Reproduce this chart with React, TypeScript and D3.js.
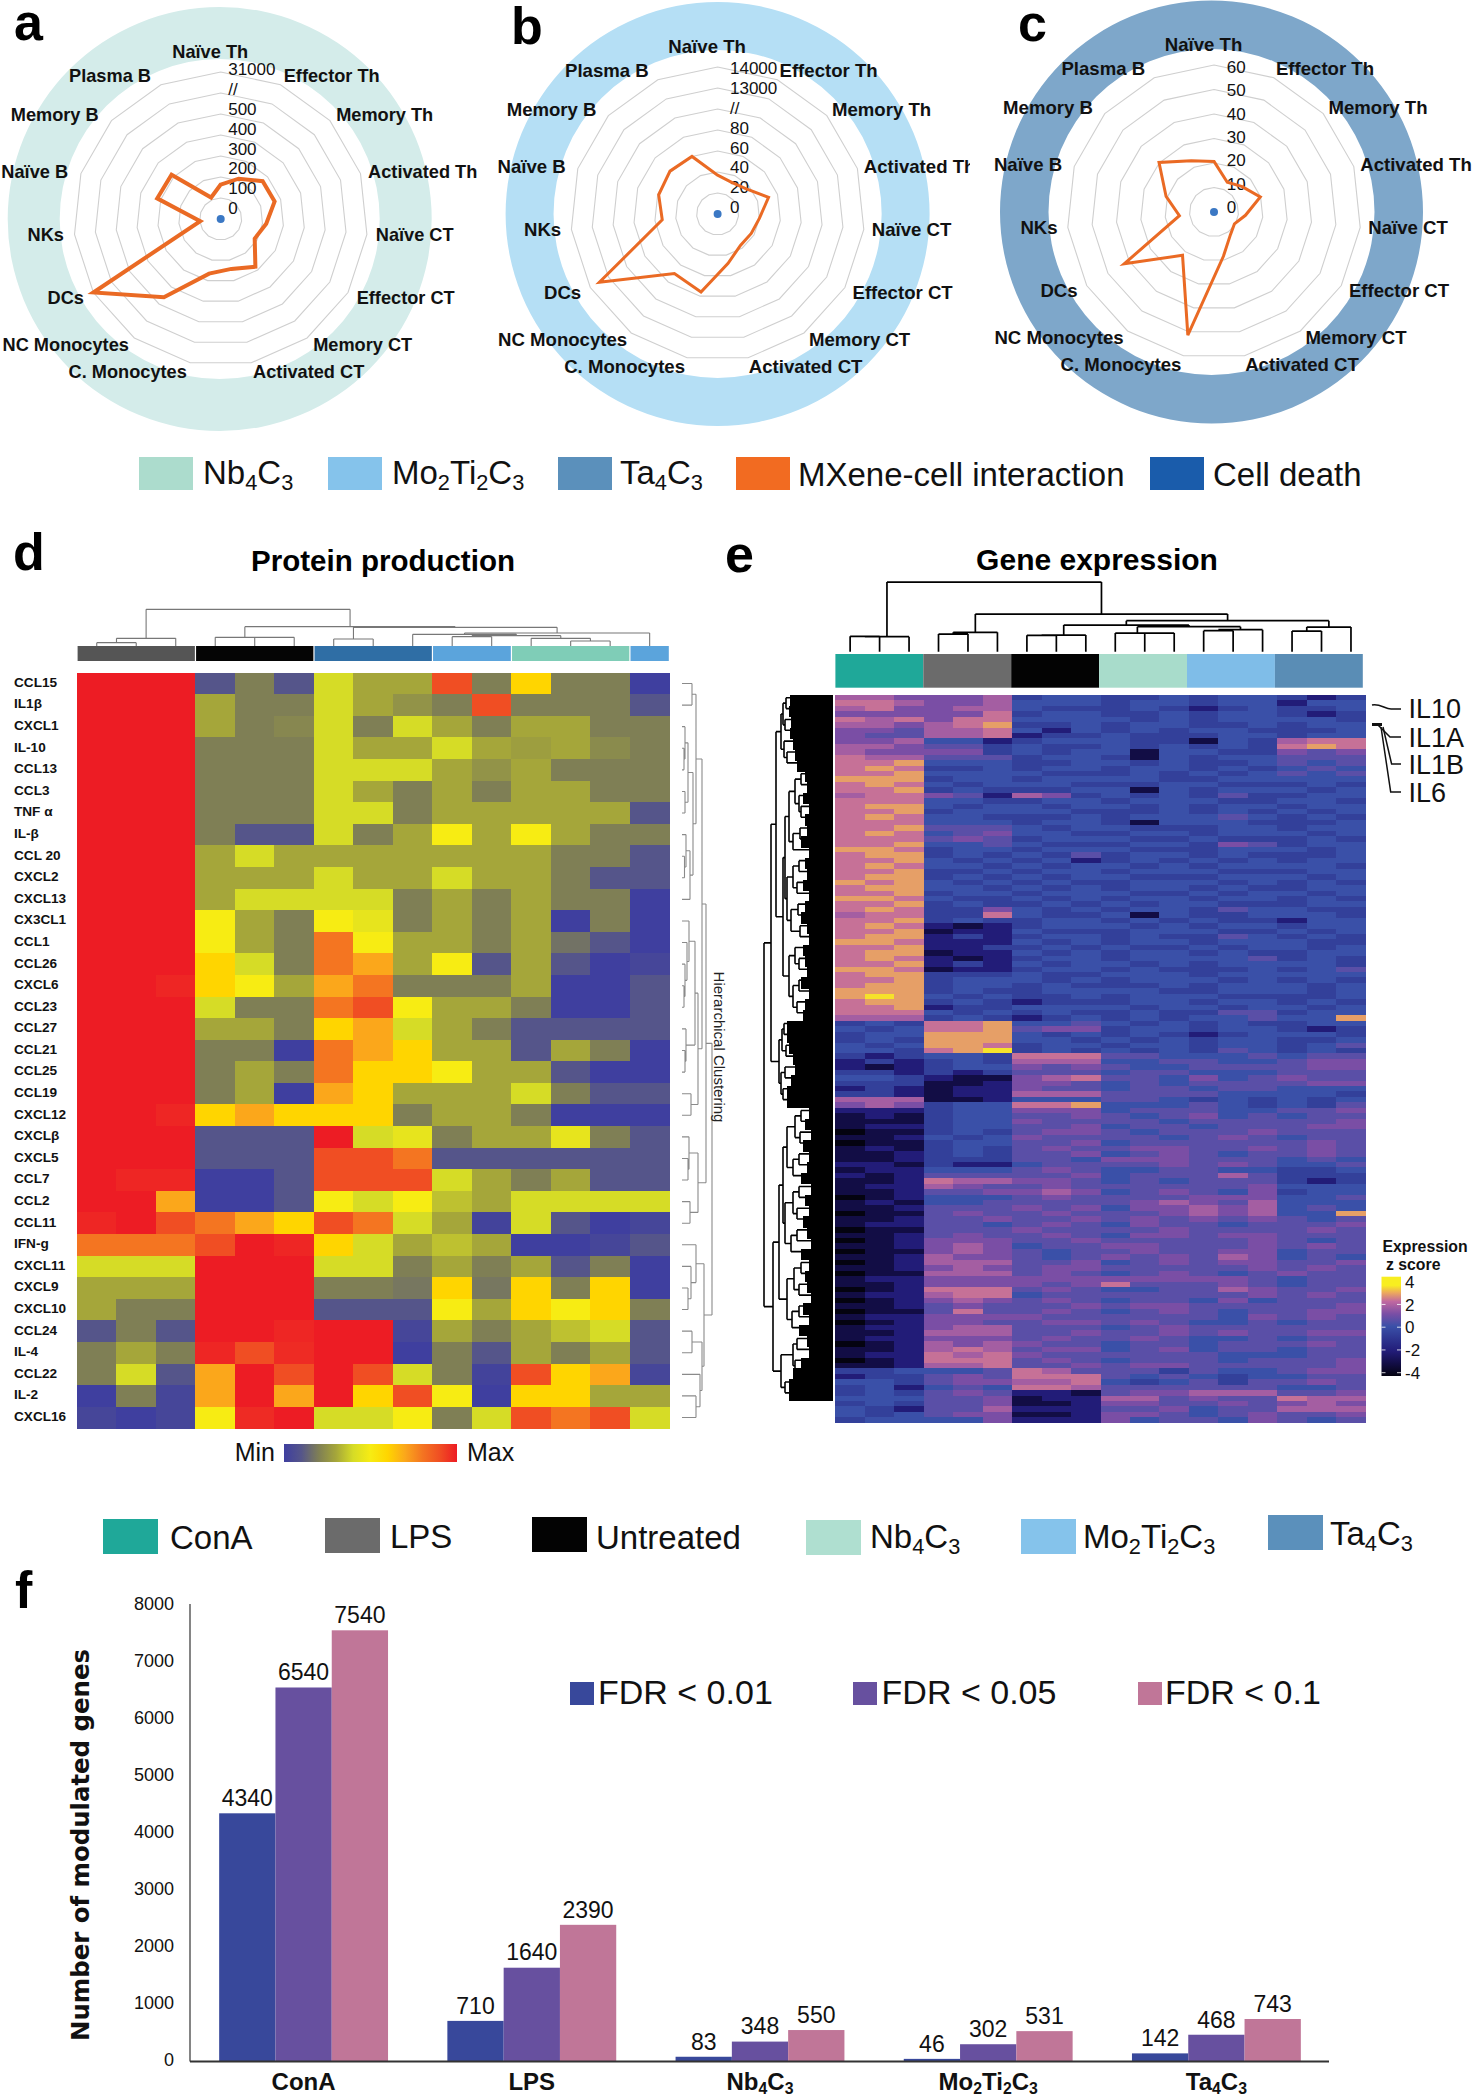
import React from "react";
import * as d3 from "d3";

const FONT = "'Liberation Sans', Arial, sans-serif";

/* ---------- radar panels ---------- */
const cellTypes = ["Naïve Th", "Effector Th", "Memory Th", "Activated Th", "Naïve CT", "Effector CT", "Memory CT", "Activated CT", "C. Monocytes", "NC Monocytes", "DCs", "NKs", "Naïve B", "Memory B", "Plasma B"];
const interactionNb = [164, 210, 269, 270, 218, 187, 281, 243, 266, 460, 31000, 98, 318, 315, 112];
const interactionMo = [37, 33, 36, 51, 40, 37, 37, 48, 76, 70, 13500, 53, 59, 61, 60];
const interactionTa = [20.8, 13.4, 15.6, 20, 13, 9.7, 11.5, 18.6, 51.7, 22, 42.6, 14.3, 20.7, 30.4, 23];
const cellDeathNb = [0, 0, 0, 0, 0, 0, 0, 0, 0, 0, 0, 0, 0, 0, 0];
const ticksNb = ["0", "100", "200", "300", "400", "500", "//", "31000"];
const ticksMo = ["0", "20", "40", "60", "80", "//", "13000", "14000"];
const ticksTa = ["0", "10", "20", "30", "40", "50", "60"];
const scaleNb = d3.scaleLinear().domain([0, 500, 30000, 31000]).range([0, 105, 126, 147]);
const scaleMo = d3.scaleLinear().domain([0, 80, 6500, 13000, 14000]).range([0, 84, 105, 126, 147]);
const scaleTa = d3.scaleLinear().domain([0, 60]).range([0, 146]);

// label offsets from each radar's centre
const labelDx = [-10.5, 111, 164, 202, 194, 185, 142, 88, -93, -155, -155, -175, -186, -166, -110.7];
const labelDy = [-168, -144, -105, -48, 15, 78, 125, 152, 152, 125, 78, 15, -48, -105, -144];

const radars = [
  { key: "a", cx: 220.7, cy: 219, ringDx: -1, ringIn: 160, ringOut: 212, ring: "#d4ecea", values: interactionNb, scale: scaleNb, ticks: ticksNb, tickX: 7.5, tick0: -11, tickTop: -150, sw: 4, clip: 1473, labelSize: 18.2 },
  { key: "b", cx: 717.6, cy: 214, ringDx: 0, ringIn: 164, ringOut: 212, ring: "#b5dff5", values: interactionMo, scale: scaleMo, ticks: ticksMo, tickX: 12.4, tick0: -7, tickTop: -146, sw: 3, clip: 970, labelSize: 18.6 },
  { key: "c", cx: 1214, cy: 212, ringDx: -2.5, ringIn: 163, ringOut: 211.5, ring: "#7ea7ca", values: interactionTa, scale: scaleTa, ticks: ticksTa, tickX: 12.7, tick0: -5, tickTop: -145, sw: 3, clip: 1473, labelSize: 18.6 },
];

/* ---------- protein heat map (d) ---------- */
const proteins = ["CCL15", "IL1β", "CXCL1", "IL-10", "CCL13", "CCL3", "TNF α", "IL-β", "CCL 20", "CXCL2", "CXCL13", "CX3CL1", "CCL1", "CCL26", "CXCL6", "CCL23", "CCL27", "CCL21", "CCL25", "CCL19", "CXCL12", "CXCLβ", "CXCL5", "CCL7", "CCL2", "CCL11", "IFN-g", "CXCL11", "CXCL9", "CXCL10", "CCL24", "IL-4", "CCL22", "IL-2", "CXCL16"];
const proteinLevels = [
  [10, 10, 10, 1, 2, 1, 4, 3, 3, 9, 2, 6, 2, 2, 0],
  [10, 10, 10, 3, 2, 2, 4, 3, 2.5, 2, 9, 2, 2, 2, 1],
  [10, 10, 10, 3, 2, 2.2, 4, 2, 4, 3, 2, 3, 3, 2, 2],
  [10, 10, 10, 2, 2, 2, 4, 3, 3, 4, 3, 2.8, 3, 2.3, 2],
  [10, 10, 10, 2, 2, 2, 4, 4, 4, 3, 2.5, 3, 2, 2, 2],
  [10, 10, 10, 2, 2, 2, 4, 3, 2, 3, 2, 3, 3, 2, 2],
  [10, 10, 10, 2, 2, 2, 4, 4, 2, 3, 3, 3, 3, 3, 1],
  [10, 10, 10, 2, 1, 1, 4, 2, 3, 5, 3, 5, 3, 2, 2],
  [10, 10, 10, 3, 4, 3, 3, 3, 3, 3, 3, 3, 2, 2, 1],
  [10, 10, 10, 3, 3, 3, 4, 3, 3, 4, 3, 3, 2, 1, 1],
  [10, 10, 10, 3, 4, 4, 4, 4, 2, 3, 2, 3, 2, 2, 0],
  [10, 10, 10, 5, 3, 2, 5, 4.5, 2, 3, 2, 3, 0, 2, 0],
  [10, 10, 10, 5, 3, 2, 8, 5, 3, 3, 2, 3, 1.7, 1, 0],
  [10, 10, 10, 6, 4, 2, 8, 7, 3, 5, 1, 3, 1, 0, 0.3],
  [10, 10, 9.8, 6, 5, 3, 7, 8, 2, 2, 2, 3, 0, 0, 1],
  [10, 10, 10, 4, 2, 2, 8, 9, 5, 3, 3, 2, 0, 0, 1],
  [10, 10, 10, 3, 3, 2, 6, 7, 4, 3, 2, 1, 1, 1, 1],
  [10, 10, 10, 2, 2, 0, 8, 7, 6, 3, 3, 1, 3, 2, 0],
  [10, 10, 10, 2, 3, 2, 8, 6, 6, 5, 3, 3, 1, 0, 0],
  [10, 10, 10, 2, 3, 0, 7, 6, 3, 3, 3, 4, 2, 1, 1],
  [10, 10, 9.8, 6, 7, 6, 6, 6, 2, 3, 3, 2, 0, 0, 0],
  [10, 10, 10, 1, 1, 1, 10, 4, 4.5, 2, 3, 3, 4.5, 2, 1],
  [10, 10, 10, 1, 1, 1, 9, 9, 8, 1, 1, 1, 1, 1, 1],
  [10, 9.8, 9.8, 0, 0, 1, 9, 9, 9, 4, 3, 2, 3, 1, 1],
  [10, 10, 7, 0, 0, 1, 5, 4, 5, 3.5, 3, 4, 4, 4, 4],
  [9.8, 10, 9, 8, 7, 6, 9, 8, 4, 3, 0.2, 4, 1, 0, 0.3],
  [8, 8, 8, 9, 10, 9.8, 6, 4, 3, 3.5, 3, 0, 0, 0.3, 1],
  [4, 4, 4, 10, 10, 10, 4, 4, 2, 3, 2, 3, 1, 2, 0],
  [3, 3, 3, 10, 10, 10, 2, 2, 1.8, 6, 1.8, 6, 2, 6, 0],
  [3, 2, 2, 10, 10, 10, 1, 1, 1, 5, 3, 6, 5, 6, 2],
  [1, 2, 1, 10, 10, 9.8, 10, 10, 0.3, 3, 2, 3, 3.5, 4, 1],
  [2, 3, 2, 9.8, 9, 9.7, 10, 10, 0, 2, 1, 3, 2, 3, 1],
  [2, 4, 1, 7, 10, 9, 10, 9, 4, 2, 0.2, 9, 6, 7, 0.3],
  [0, 2, 0.3, 7, 10, 7, 10, 6, 9, 5, 0, 6, 6, 3, 3],
  [0.3, 0, 0.3, 5, 9.7, 10, 4, 4, 5, 2, 4, 9, 8, 9, 4],
];
const proteinColumns = d3.range(15);
const proteinStops = [0, 1, 2, 3, 4, 5, 6, 7, 8, 9, 10];
const proteinColors = ["#3f3f9f", "#55558a", "#7f7f55", "#a5a63a", "#d6dc26", "#f7ec13", "#ffd500", "#fba71b", "#f47521", "#f04e23", "#ed1c24"];
const proteinGroups = [
  { start: 0, n: 3, color: "#555555" },
  { start: 3, n: 3, color: "#050505" },
  { start: 6, n: 3, color: "#2f6ea5" },
  { start: 9, n: 2, color: "#5ba4dc" },
  { start: 11, n: 3, color: "#7fcdb7" },
  { start: 14, n: 1, color: "#5ba4dc" },
];
type Tree = number | [number, Tree, Tree];
const proteinColTree: Tree = [110, [23, [10, 0, 1], 2], [58, [26, 3, [26, 4, 5]], [56, [21, 6, 7], [39, [35, 8, [31, [28, 9, 10], [23, 11, [15, 12, 13]]]], 14]]]];
const proteinRowTree: Tree = [30,
  [24,
    [20,
      [14, [10, 0, 1], [11, [6, [3, 2, [2, 3, 4]], [3, 5, 6]], [8, [4, 7, [2.5, 8, 9]], 10]]],
      [16, [13, [7, 11, [5, 12, [3, 13, [2, 14, 15]]]], [4, 16, [3, 17, 18]]], [9, 19, 20]]],
    [16, [7, 21, [6, 22, 23]], [8, 24, 25]]],
  [22,
    [14, 26, [9, 27, [6, 28, 29]]],
    [20, [10, 30, 31], [18, 32, [14, 33, 34]]]]];

/* ---------- gene heat map (e) ---------- */
const geneColumns = d3.range(18);
const zStops = [-4, -3, -2, -1, 0, 1, 2, 2.7, 3.3, 4];
const zColors = ["#040310", "#120d45", "#221c78", "#2e3590", "#3a50a8", "#7a4ea5", "#c068a0", "#eca85e", "#f8ee20", "#f8ee20"];
const zLevels = [-4, -3, -2, -0.6, 0, 0.5, 1, 1.6, 2.1, 2.6, 3.2];
const zTicks = [4, 2, 0, -2, -4];
const geneRows = [
  "776 667 344 334 344 323", "887 667 444 344 344 244", "786 677 433 343 234 334", "666 668 344 334 344 323",
  "878 688 444 434 344 443", "776 789 334 344 334 344", "665 778 424 343 443 334", "655 778 233 433 344 344",
  "667 442 344 433 143 788", "776 553 433 434 343 898", "766 663 434 414 433 656", "877 555 344 314 344 555",
  "889 444 334 434 334 545", "898 334 344 344 343 454", "889 444 433 343 434 545", "999 344 344 443 344 444",
  "898 434 443 334 433 343", "889 343 334 414 344 434", "788 652 763 434 353 344", "888 443 344 344 433 443",
  "899 434 434 434 344 344", "889 344 443 334 343 434", "898 443 334 344 454 343", "888 444 344 314 443 334",
  "889 555 434 433 344 344", "898 456 443 344 344 434", "888 565 344 433 433 343", "889 445 433 344 365 344",
  "998 344 344 433 344 434", "899 343 435 344 343 334", "889 434 342 343 434 344", "898 443 434 434 344 443",
  "889 334 344 344 433 344", "899 343 434 433 344 434", "989 434 343 344 434 343", "899 443 434 344 343 344",
  "889 344 344 433 434 434", "998 433 434 344 344 343", "889 343 343 434 433 344", "898 336 434 344 354 433",
  "788 338 433 414 334 443", "889 343 344 343 433 244", "898 212 344 434 344 344", "889 122 433 344 433 434",
  "899 232 344 343 354 343", "998 222 434 344 344 433", "889 223 343 433 434 434", "899 122 434 344 343 344",
  "898 212 344 344 445 343", "889 232 434 434 344 443", "998 122 344 343 334 345", "899 333 433 444 344 444",
  "889 344 434 344 434 343", "899 344 343 334 344 434", "999 343 344 443 344 434", "9a9 434 334 344 433 334",
  "899 343 233 344 344 343", "889 233 444 434 434 434", "888 434 343 343 355 344", "777 343 234 343 445 449",
  "343 889 445 434 343 344", "434 889 566 344 344 323", "344 999 434 343 234 443", "343 999 443 434 344 334",
  "434 998 344 344 344 345", "443 89a 343 434 354 343", "323 443 888 554 445 455", "232 343 777 445 544 566",
  "212 344 656 544 555 566", "332 323 555 455 444 555", "443 211 678 554 645 655", "333 112 665 454 555 566",
  "232 122 655 455 455 444", "332 122 777 555 544 443", "777 112 444 554 343 434", "676 344 889 444 543 435",
  "222 344 666 455 544 556", "121 344 556 545 645 455", "111 344 655 554 555 556", "122 344 556 455 455 566",
  "011 343 566 545 556 555", "112 434 655 554 565 455", "011 344 556 455 555 565", "121 343 565 566 556 565",
  "112 343 556 456 545 565", "112 333 554 666 555 454", "221 322 455 556 565 445", "122 444 565 445 544 334",
  "212 555 556 455 575 333", "112 877 665 454 555 323", "122 765 565 555 556 444", "112 556 676 456 546 344",
  "012 444 565 555 666 445", "121 445 555 567 657 444", "112 555 656 466 767 454", "011 565 565 556 767 449",
  "112 556 556 565 656 545", "122 554 565 465 545 556", "011 555 655 556 555 565", "112 565 565 466 566 555",
  "012 666 556 555 556 545", "112 676 455 665 556 565", "011 676 545 565 566 455", "112 766 545 656 576 454",
  "012 777 556 456 566 556", "112 676 566 555 556 565", "011 777 565 456 545 655", "122 666 666 666 665 455",
  "112 666 656 855 565 455", "012 888 565 445 576 556", "122 788 455 555 556 565", "012 676 565 455 464 555",
  "112 565 556 566 555 556", "011 585 565 456 545 566", "122 666 655 555 546 565", "012 665 566 565 445 455",
  "122 677 555 456 555 555", "112 777 556 556 565 566", "122 666 565 565 445 455", "012 767 655 455 455 565",
  "112 787 566 456 455 455", "122 878 655 555 544 455", "012 888 565 455 545 556", "112 778 556 566 555 556",
  "334 445 875 553 544 566", "233 565 888 545 434 455", "443 566 778 434 535 565", "342 454 887 555 555 445",
  "343 565 221 566 777 556", "444 556 122 775 655 877", "343 556 112 665 565 676", "432 557 222 556 455 777",
  "434 566 112 665 456 556", "344 446 222 645 546 545",
];
const geneGroups = [
  { start: 0, n: 3, color: "#1fa899" },
  { start: 3, n: 3, color: "#6b6b6b" },
  { start: 6, n: 3, color: "#030303" },
  { start: 9, n: 3, color: "#a8dccb" },
  { start: 12, n: 3, color: "#7fbde8" },
  { start: 15, n: 3, color: "#5a8db5" },
];
const geneColTree: Tree = [209, [45, [46, 0, 1], 2], [113, [58, [53, 3, 4], 5], [93, [80, [50, [49, 6, 7], 8], [75, [56, 9, [56, 10, 11]], [66, [63, 12, 13], 14]]], [74, [62, 15, 16], 17]]]];
// how far the solid leaf mass of the row dendrogram reaches, per pair of rows
const geneLeafEdge = [43, 44, 42, 43, 40, 38, 36, 28, 26, 30, 24, 28, 26, 32, 24, 28, 26, 30, 24, 28, 32, 26, 24, 30, 28, 26, 32, 24, 28, 30, 46, 46, 44, 40, 38, 42, 46, 46, 24, 28, 22, 30, 24, 26, 32, 22, 28, 24, 30, 26, 22, 32, 24, 28, 26, 22, 30, 24, 34, 26, 24, 32, 40, 44, 44];
const geneRowTree: Tree = [69,
  [62,
    [57,
      [52, [50, [47, 0, 2], [48, 4, 6]], [49, 8, [46, 10, 12]]],
      [50,
        [48,
          [44, [38, [32, 14, 16], [34, 18, [32, 20, 22]]], [40, [33, 24, 26], 28]],
          [46, [40, [34, 30, 32], [36, 34, 36]], [42, [35, 38, 40], [33, 42, 44]]]],
        [44, [38, 46, [34, 48, 50]], [40, [34, 52, 54], [36, 56, 58]]]]],
    [54, [51, [49, 60, 62], [47, 64, 66]], [52, [48, 68, 70], [50, 72, 74]]]],
  [60,
    [54,
      [50,
        [46, [38, [32, 76, 78], [33, 80, 82]], [40, [34, 84, 86], 88]],
        [48, [40, [34, 90, 92], [36, 94, 96]], [42, [36, 98, 100], 102]]],
      [46, [39, [32, 104, 106], [34, 108, 110]], [41, [34, 112, 114], 116]]],
    [52, [40, [36, 118, 120], [38, 122, 124]], [48, 126, 128]]]];
const geneNames = ["IL10", "IL1A", "IL1B", "IL6"];

/* ---------- legends and bars ---------- */
const legendTop = [
  { label: "Nb4C3", color: "#acdccd" },
  { label: "Mo2Ti2C3", color: "#85c3eb" },
  { label: "Ta4C3", color: "#5b90bb" },
  { label: "MXene-cell interaction", color: "#f26b21" },
  { label: "Cell death", color: "#1a5cab" },
];
const legendMid = [
  { label: "ConA", color: "#1fa899" },
  { label: "LPS", color: "#6b6b6b" },
  { label: "Untreated", color: "#030303" },
  { label: "Nb4C3", color: "#afdfd0" },
  { label: "Mo2Ti2C3", color: "#85c3eb" },
  { label: "Ta4C3", color: "#5b90bb" },
];
const treatments = ["ConA", "LPS", "Nb4C3", "Mo2Ti2C3", "Ta4C3"];
const fdrNames = ["FDR < 0.01", "FDR < 0.05", "FDR < 0.1"];
const fdrColors = ["#38489b", "#67509f", "#c07698"];
const fdr001 = [4340, 710, 83, 46, 142];
const fdr005 = [6540, 1640, 348, 302, 468];
const fdr01 = [7540, 2390, 550, 531, 743];
const yTicks = [0, 1000, 2000, 3000, 4000, 5000, 6000, 7000, 8000];

/* ---------- helpers ---------- */
function Chem({ s, size }: { s: string; size: number }) {
  const parts = s.match(/\d+|\D+/g) || [];
  const isFormula = /^[A-Z][a-z]?\d/.test(s);
  if (!isFormula) return <>{s}</>;
  const shift = size * 0.2;
  let prevSub = false;
  return (
    <>
      {parts.map((p, i) => {
        const sub = /^\d+$/.test(p);
        const dy = sub ? shift : prevSub ? -shift : 0;
        prevSub = sub;
        return <tspan key={i} dy={dy} fontSize={sub ? size * 0.66 : size}>{p}</tspan>;
      })}
    </>
  );
}

function treePath(tree: Tree, pos: (leaf: number) => number, leafH: (leaf: number) => number, place: (p: number, h: number) => [number, number]) {
  const path = d3.path();
  const seg = (p1: number, h1: number, p2: number, h2: number) => {
    const [x1, y1] = place(p1, h1);
    const [x2, y2] = place(p2, h2);
    path.moveTo(x1, y1);
    path.lineTo(x2, y2);
  };
  const walk = (t: Tree): { p: number; h: number } => {
    if (typeof t === "number") return { p: pos(t), h: leafH(t) };
    const a = walk(t[1]);
    const b = walk(t[2]);
    const h = t[0];
    seg(a.p, a.h, a.p, h);
    seg(b.p, b.h, b.p, h);
    seg(a.p, h, b.p, h);
    return { p: (a.p + b.p) / 2, h };
  };
  walk(tree);
  return path.toString();
}

function Radar({ r }: { r: (typeof radars)[number] }) {
  const step = (2 * Math.PI) / cellTypes.length;
  const levels = r.ticks.length - 1;
  const R = 147;
  const ringPath = d3.arc()({ innerRadius: r.ringIn, outerRadius: r.ringOut, startAngle: 0, endAngle: 2 * Math.PI }) as string;
  const radial = d3.lineRadial<number>().angle((_, i) => i * step).curve(d3.curveLinearClosed);
  const tickY = d3.scaleLinear().domain([0, levels]).range([r.tick0, r.tickTop]);
  return (
    <g clipPath={`url(#clip-${r.key})`}>
      <clipPath id={`clip-${r.key}`}><rect x={0} y={0} width={r.clip} height={2100} /></clipPath>
      <g transform={`translate(${r.cx},${r.cy})`}>
        <path d={ringPath} fill={r.ring} transform={`translate(${r.ringDx},0)`} />
        {d3.range(1, levels + 1).map((l) => (
          <path key={l} d={radial.radius((R * l) / levels)(cellTypes.map(() => 0)) as string} fill="none" stroke="#cfcfcf" strokeWidth={1.1} />
        ))}
        {r.ticks.map((t, i) => (
          <text key={i} x={r.tickX} y={tickY(i)} dy="0.36em" fontSize={17} fill="#111">{t}</text>
        ))}
        <path d={d3.lineRadial<number>().angle((_, i) => i * step).radius((v) => r.scale(v)).curve(d3.curveLinearClosed)(r.values) as string} fill="none" stroke="#ea6a24" strokeWidth={r.sw} strokeLinejoin="miter" />
        <path d={d3.lineRadial<number>().angle((_, i) => i * step).radius((v) => r.scale(v)).curve(d3.curveLinearClosed)(cellDeathNb) as string} fill="none" stroke="#3b78c4" strokeWidth={8} strokeLinecap="round" strokeLinejoin="round" />
        {cellTypes.map((c, i) => (
          <text key={c} x={labelDx[i]} y={labelDy[i]} dy="0.36em" textAnchor="middle" fontSize={r.labelSize} fontWeight={700} fill="#111">{c}</text>
        ))}
      </g>
    </g>
  );
}

function Legend({ items, xs, ys, hs, ws, size, texts, textYs }: { items: { label: string; color: string }[]; xs: number[]; ys: number[]; hs: number; ws: number; size: number; texts: number[]; textYs: number[] }) {
  return (
    <g>
      {items.map((it, i) => (
        <g key={it.label + i}>
          <rect x={xs[i]} y={ys[i]} width={ws} height={hs} fill={it.color} />
          <text x={texts[i]} y={textYs[i] + size * 0.36} fontSize={size} fill="#111"><Chem s={it.label} size={size} /></text>
        </g>
      ))}
    </g>
  );
}

export default function App() {
  /* d */
  const dX = d3.scaleBand<number>().domain(proteinColumns).range([77, 669.4]);
  const dY = d3.scaleBand<string>().domain(proteins).range([672.7, 1428.3]);
  const dColor = d3.scaleLinear<string>().domain(proteinStops).range(proteinColors).interpolate(d3.interpolateRgb as any);
  const dCx = (i: number) => (dX(i) as number) + dX.bandwidth() / 2;
  const dCy = (i: number) => (dY(proteins[i]) as number) + dY.bandwidth() / 2;
  const dColHeight = d3.scaleLinear().domain([0, 110]).range([646, 646 - 110 / 3]);
  const dTop = treePath(proteinColTree, dCx, () => 0, (p, h) => [p, dColHeight(h)]);
  const dSide = treePath(proteinRowTree, dCy, () => 0, (p, h) => [682 + h, p]);

  /* e */
  const eX = d3.scaleBand<number>().domain(geneColumns).range([835.4, 1365.7]);
  const rowIdx = d3.range(geneRows.length);
  const eY = d3.scaleBand<number>().domain(rowIdx).range([695, 1422.7]);
  const zColor = d3.scaleLinear<string>().domain(zStops).range(zColors);
  const decoded = geneRows.map((r) => r.replace(/ /g, "").split("").map((ch) => zLevels[parseInt(ch, 16)]));
  const eBarX = d3.scaleBand<number>().domain(geneColumns).range([835.4, 1362.8]);
  const eCx = (i: number) => (eX(i) as number) + eX.bandwidth() / 2;
  const eCy = (i: number) => (eY(i) as number) + eY.bandwidth() / 2;
  const eColHeight = d3.scaleLinear().domain([0, 209]).range([651.7, 651.7 - 209 / 3]);
  const eTop = treePath(geneColTree, eCx, () => 0, (p, h) => [p, eColHeight(h)]);
  const edge = (row: number) => geneLeafEdge[Math.floor(row / 2)];
  const eSide = treePath(geneRowTree, eCy, edge, (p, h) => [833 - h, p]);
  const barZ = d3.scaleLinear().domain([4, -4]).range([1281.7, 1372.7]);

  /* f */
  const fX = d3.scaleBand<string>().domain(treatments).range([189.5, 1330.5]).paddingInner(0.26).paddingOuter(0.13);
  const fInner = d3.scaleBand<number>().domain([0, 1, 2]).range([0, fX.bandwidth()]);
  const fY = d3.scaleLinear().domain([0, 8000]).range([2061.5, 1604]);
  const fTickY = d3.scaleLinear().domain([0, 8000]).range([2060, 1604]);
  const fdrSeries = [fdr001, fdr005, fdr01];

  return (
    <svg width={1473} height={2100} viewBox="0 0 1473 2100" style={{ position: "absolute", left: 0, top: 0, display: "block", background: "#fff" }} fontFamily={FONT}>
      {/* panel letters */}
      <g fontWeight={700} fontSize={52} fill="#000">
        <text x={14} y={40}>a</text>
        <text x={511} y={44}>b</text>
        <text x={1018} y={41}>c</text>
        <text x={13} y={570}>d</text>
        <text x={725} y={572}>e</text>
        <text x={15} y={1608}>f</text>
      </g>

      {radars.map((r) => <Radar key={r.key} r={r} />)}

      <Legend items={legendTop} xs={[139, 328, 558, 736, 1150]} ys={[457, 457, 457, 457, 457]} ws={54} hs={33} size={33}
        texts={[203, 392, 620, 798, 1213]} textYs={[472, 472, 472, 474, 474]} />

      {/* d */}
      <text x={383} y={560} dy="0.36em" textAnchor="middle" fontSize={29.5} fontWeight={700}>Protein production</text>
      <path d={dTop} fill="none" stroke="#777" strokeWidth={1.1} />
      {proteinGroups.map((g) => (
        <rect key={g.start} x={(dX(g.start) as number) + 0.6} y={646} width={dX.bandwidth() * g.n - 1.2} height={15} fill={g.color} />
      ))}
      <g shapeRendering="crispEdges">
        {proteinLevels.map((row, ri) => row.map((v, ci) => (
          <rect key={ci} x={dX(ci)} y={dY(proteins[ri])} width={dX.bandwidth() + 0.5} height={dY.bandwidth() + 0.5} fill={dColor(v)} />
        )))}
      </g>
      {proteins.map((p, i) => (
        <text key={p} x={14} y={dCy(i) - 1.5} dy="0.36em" fontSize={13.6} fontWeight={700} fill="#111">{p}</text>
      ))}
      <path d={dSide} fill="none" stroke="#8a8a8a" strokeWidth={1.1} />
      <text transform="translate(719,1047) rotate(90)" textAnchor="middle" dy="0.36em" fontSize={15} fill="#222">Hierarchical Clustering</text>
      <defs>
        <linearGradient id="minmax" x1="0" x2="1" y1="0" y2="0">
          {proteinColors.map((c, i) => <stop key={i} offset={proteinStops[i] / 10} stopColor={c} />)}
        </linearGradient>
        <linearGradient id="zbar" x1="0" x2="0" y1="1" y2="0">
          {zColors.map((c, i) => <stop key={i} offset={(zStops[i] + 4) / 8} stopColor={c} />)}
        </linearGradient>
      </defs>
      <rect x={284} y={1444} width={173} height={18} fill="url(#minmax)" />
      <text x={275} y={1452} dy="0.36em" textAnchor="end" fontSize={25} fill="#111">Min</text>
      <text x={467} y={1452} dy="0.36em" fontSize={25} fill="#111">Max</text>

      {/* e */}
      <text x={1097} y={559} dy="0.36em" textAnchor="middle" fontSize={30} fontWeight={700}>Gene expression</text>
      <path d={eTop} fill="none" stroke="#000" strokeWidth={1.7} />
      {geneGroups.map((g) => (
        <rect key={g.start} x={eBarX(g.start)} y={654} width={eBarX.bandwidth() * g.n} height={33.7} fill={g.color} />
      ))}
      <g shapeRendering="crispEdges">
        {decoded.map((row, ri) => row.map((v, ci) => (
          <rect key={ci} x={eX(ci)} y={eY(ri)} width={eX.bandwidth() + 0.5} height={eY.bandwidth() + 0.5} fill={zColor(v)} />
        )))}
      </g>
      <g fill="#000" shapeRendering="crispEdges">
        {rowIdx.map((r) => (
          <rect key={r} x={833 - edge(r)} y={eY(r)} width={edge(r)} height={eY.bandwidth() + 0.5} />
        ))}
      </g>
      <path d={eSide} fill="none" stroke="#000" strokeWidth={1.6} />
      {/* gene callouts */}
      <g fontSize={27} fill="#111">
        {geneNames.map((g, i) => (
          <text key={g} x={1408.5} y={[708, 737, 764, 792][i]} dy="0.36em">{g}</text>
        ))}
      </g>
      <g fill="none" stroke="#111" strokeWidth={1.5}>
        <path d="M1372 705 C1380 703 1386 710 1392 709 L1401 709" />
        <path d="M1378 725 L1390 737 L1401 737" />
        <path d="M1383 727 L1391.6 764 L1401 764" />
        <path d="M1381 727 L1390.7 792 L1401 792" />
        <path d="M1372 724.5 L1382 724.5" strokeWidth={3} />
      </g>
      <text x={1382.5} y={1246.7} dy="0.36em" fontSize={15.8} fontWeight={700} fill="#111">Expression</text>
      <text x={1386} y={1264} dy="0.36em" fontSize={15.8} fontWeight={700} fill="#111">z score</text>
      <rect x={1381.5} y={1276.7} width={19.5} height={99.3} fill="url(#zbar)" />
      {zTicks.map((t) => (
        <g key={t}>
          <path d={`M1381.5 ${barZ(t)}h4M1397 ${barZ(t)}h4`} stroke="#fff" strokeWidth={1} opacity={t === 4 ? 0 : 0.8} />
          <text x={1405} y={barZ(t)} dy="0.36em" fontSize={17} fill="#111">{t}</text>
        </g>
      ))}

      <Legend items={legendMid} xs={[103, 325, 532, 806, 1021, 1268]} ys={[1519, 1518, 1517, 1520, 1519, 1515]} ws={55} hs={35} size={33}
        texts={[170, 390, 596, 870, 1083, 1330]} textYs={[1537, 1536, 1537, 1536, 1536, 1533]} />

      {/* f */}
      <path d={`M190 1604V${fY(0)}`} stroke="#333" strokeWidth={1.2} fill="none" />
      {fdrSeries.map((series, si) => treatments.map((t, ti) => {
        const x = (fX(t) as number) + (fInner(si) as number);
        return (
          <g key={t + si}>
            <rect x={x} y={fY(series[ti])} width={fInner.bandwidth()} height={fY(0) - fY(series[ti])} fill={fdrColors[si]} />
            <text x={x + fInner.bandwidth() / 2} y={fY(series[ti]) - 15.5} dy="0.36em" textAnchor="middle" fontSize={23} fill="#111">{series[ti]}</text>
          </g>
        );
      }))}
      <path d={`M190 ${fY(0)}H1329`} stroke="#333" strokeWidth={2} fill="none" />
      {yTicks.map((t) => (
        <text key={t} x={174} y={fTickY(t)} dy="0.36em" textAnchor="end" fontSize={18} fill="#111">{t}</text>
      ))}
      {treatments.map((t) => (
        <text key={t} x={(fX(t) as number) + fX.bandwidth() / 2} y={2081 + 24 * 0.36} textAnchor="middle" fontSize={24} fontWeight={700} fill="#111"><Chem s={t} size={24} /></text>
      ))}
      <text transform="translate(80,1845) rotate(-90)" textAnchor="middle" dy="0.36em" fontFamily="'DejaVu Sans'" fontWeight={700} fontSize={24} textLength={392} lengthAdjust="spacingAndGlyphs" fill="#111">Number of modulated genes</text>
      {fdrNames.map((n, i) => (
        <g key={n}>
          <rect x={[570, 853, 1138][i]} y={1682} width={24} height={23} fill={fdrColors[i]} />
          <text x={[598, 881.6, 1165][i]} y={1691.6} dy="0.36em" fontSize={34} fill="#111">{n}</text>
        </g>
      ))}
    </svg>
  );
}
